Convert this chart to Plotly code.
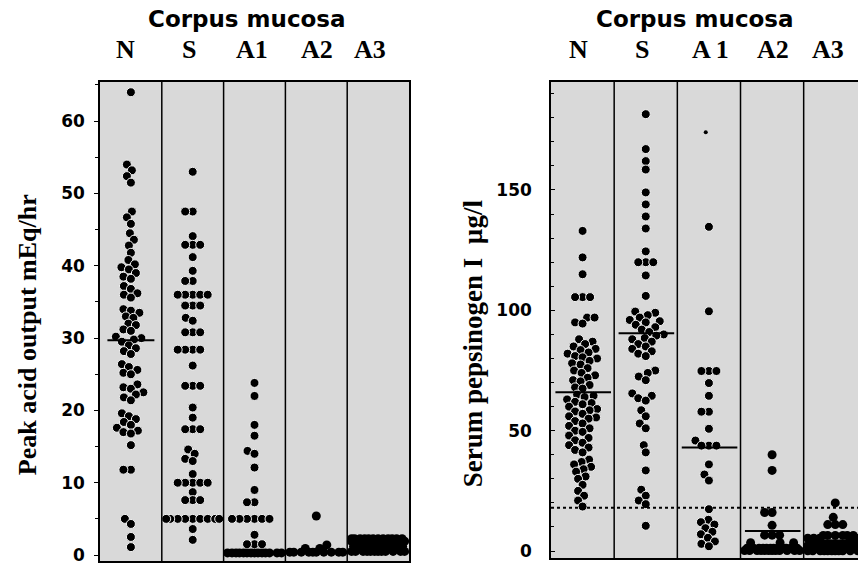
import plotly.graph_objects as go
import numpy as np

# ---------------- data ----------------
cols_left = ["N", "S", "A1", "A2", "A3"]
cols_right = ["N", "S", "A 1", "A2", "A3"]

# Peak acid output (mEq/hr)
pao_N = [64, 54, 53.2, 52.4, 51.5, 47.5, 46.7, 45.8, 44.5, 43.6, 42.8, 41.8, 40.8,
         40.2, 39.8, 39.5, 39, 38.5, 38.2, 37.2, 36.8, 36.2, 36, 35.6,
         34, 33.8, 33.5, 33, 32.8, 32, 31.8, 31.2, 31,
         30.2, 30, 29.8, 29.5, 29, 28.6, 28.2, 27.8,
         26.4, 26, 25.6, 25.2, 25, 23.6, 23.2, 23, 22.5, 22.2, 21.8, 21.4,
         19.6, 19.2, 18.8, 18.4, 18, 17.6, 17.2, 17, 16.8, 15.2,
         11.8, 11.8, 5, 4.3, 2.5, 1.1]
pao_S = [53, 47.5, 47.5, 44.1, 42.9, 42.9, 42.9, 41.2, 39.3, 37.9, 37.9,
         36, 36, 36, 36, 36, 34.5, 34.5, 34.5, 32.8, 32.4, 30.8, 30.8, 30.8,
         28.4, 28.4, 28.4, 28.4, 26.2, 23.4, 23.4, 23.4, 20.4, 19,
         17.4, 17.4, 17.4, 14.6, 14, 13.3, 13, 11.2, 10, 10, 10, 10, 10,
         8.7, 7.6, 7.6, 7.6, 5, 5, 5, 5, 5, 5, 5, 5, 5, 3.6, 2.1]
pao_A1 = [23.8, 22, 18, 16.5, 14.4, 14, 12.1, 9, 7.3, 7.3, 5, 5, 5, 5, 5, 5,
          2.8, 1.5, 1.5, 1.5]
pao_A1_floor = [0.3] * 14
pao_A2 = [5.4, 1.4, 0.9, 0.9] + [0.4] * 10
pao_A3 = [0.5] * 12 + [1.2] * 12 + [1.9] * 12 + [2.25] * 12
pao_median = [29.7, None, None, None, None]

# Serum pepsinogen I (ug/l)
pg_N = [133, 122, 115, 105.5, 105.5, 105.5, 97, 97, 95, 94.5,
        88, 87, 86, 85, 84, 83.5, 82.5, 82, 81, 80.5, 80, 79, 78, 77.5,
        76, 75, 74, 73, 72, 71, 70.5, 69, 68, 67.5,
        65, 64.5, 64, 63, 62, 61.5, 61, 60, 59, 58.5, 58, 57, 56, 55.5,
        55, 54, 53, 52, 51, 50, 49.5, 48, 47, 46, 45, 44, 43, 42, 41,
        38, 37, 36, 35, 34, 33, 31, 30, 27.5, 25, 23, 21, 18.5]
pg_S = [181.5, 167, 162, 158.5, 149, 144, 139, 134, 124.5, 120, 120, 120,
        114.5, 106, 99.5, 99, 98, 97, 96, 95.5, 95, 94, 93, 92, 91, 90,
        89.5, 88.5, 88, 87, 86, 85, 84, 83, 82, 81, 75, 74, 72.5, 71,
        65.5, 64.5, 63.5, 62.5, 58.5, 56, 53, 51, 44, 41, 33.5,
        25.5, 23, 21, 19.5, 10.5]
pg_A1 = [134.7, 99.6, 74.8, 74.8, 74.8, 69.8, 64.5, 57.9, 57.9, 50.8,
         45.9, 43.8, 43.8, 43.8, 36, 31.8, 29.3, 17.4,
         13, 12, 11, 9.5, 8, 7, 5.5, 4, 3, 2]
pg_A1_small = [174]
pg_A2 = [40, 33.5, 16, 16, 10.7, 6.6, 6.6, 6.6, 3.5, 3.5, 3.5] + [1.2] * 12 + [0.2] * 12
pg_A3 = ([20, 14, 11, 11, 11] + [6.5] * 6 + [5.3] * 6 + [3.0] * 12 + [2.2] * 12
         + [1.2] * 12 + [0.1] * 12)
pg_median = [66, 90.5, 43, 8.3, None]
pg_cutoff = 18

# ---------------- geometry / style ----------------
W, H = 858, 567
LX0, LX1, LYT, LYB = 100, 409, 82, 564
RX0, RX1, RYT, RYB = 551, 858, 82, 561
L_zero_px, L_ppu = 558, 7.27
R_zero_px, R_ppu = 554, 2.42
L_yrange = [-(LYB - L_zero_px) / L_ppu, (L_zero_px - LYT) / L_ppu]
R_yrange = [-(RYB - R_zero_px) / R_ppu, (R_zero_px - RYT) / R_ppu]
L_xrange = [0, 5]
R_xrange = [0, 4.86]
BG = "#d9d9d9"
DOT = 9
HALO = [True, True, True, False, False]

Lpx_x = (LX1 - LX0) / (L_xrange[1] - L_xrange[0])
Lpx_y = L_ppu
Rpx_x = (RX1 - RX0) / (R_xrange[1] - R_xrange[0])
Rpx_y = R_ppu


def swarm(vals, px_y, px_x, d=7.5, maxoff=26.0):
    order = sorted(range(len(vals)), key=lambda i: vals[i])
    placed = []
    xs = [0.0] * len(vals)
    cands = sorted(np.arange(-maxoff, maxoff + 0.01, 0.5), key=lambda c: (abs(c), c))
    for i in order:
        y = vals[i] * px_y
        best = None
        for c in cands:
            if all((c - px) ** 2 + (y - py) ** 2 >= d * d for px, py in placed):
                best = c
                break
        if best is None:
            best = max(cands, key=lambda c: min((c - px) ** 2 + (y - py) ** 2 for px, py in placed))
        placed.append((best, y))
        xs[i] = best / px_x
    return xs


def marker(halo):
    if halo:
        return dict(color="black", size=DOT, line=dict(color="#f2f2f2", width=1))
    return dict(color="black", size=DOT, line=dict(width=0))


fig = go.Figure()

left_sets = [pao_N, pao_S, pao_A1, pao_A2, pao_A3]
right_sets = [pg_N, pg_S, pg_A1, pg_A2, pg_A3]

for i, vals in enumerate(left_sets):
    off = swarm(vals, Lpx_y, Lpx_x, maxoff=26.5)
    fig.add_trace(go.Scatter(x=[i + 0.5 + o for o in off], y=vals, mode="markers",
                             marker=marker(HALO[i]), xaxis="x", yaxis="y",
                             showlegend=False, hoverinfo="skip"))
off = swarm(pao_A1_floor, Lpx_y, Lpx_x, maxoff=27)
fig.add_trace(go.Scatter(x=[2.5 + o for o in off], y=pao_A1_floor, mode="markers",
                         marker=marker(False), xaxis="x", yaxis="y",
                         showlegend=False, hoverinfo="skip"))
for i, vals in enumerate(right_sets):
    off = swarm(vals, Rpx_y, Rpx_x, maxoff=27.5)
    fig.add_trace(go.Scatter(x=[i + 0.5 + o for o in off], y=vals, mode="markers",
                             marker=marker(HALO[i]), xaxis="x2", yaxis="y2",
                             showlegend=False, hoverinfo="skip"))
fig.add_trace(go.Scatter(x=[2.45], y=pg_A1_small, mode="markers",
                         marker=dict(color="black", size=4), xaxis="x2", yaxis="y2",
                         showlegend=False, hoverinfo="skip"))

# medians
for i, m in enumerate(pao_median):
    if m is not None:
        fig.add_trace(go.Scatter(x=[i + 0.12, i + 0.88], y=[m, m], mode="lines",
                                 line=dict(color="black", width=2), xaxis="x", yaxis="y",
                                 showlegend=False, hoverinfo="skip"))
for i, m in enumerate(pg_median):
    if m is not None:
        fig.add_trace(go.Scatter(x=[i + 0.07, i + 0.95], y=[m, m], mode="lines",
                                 line=dict(color="black", width=2), xaxis="x2", yaxis="y2",
                                 showlegend=False, hoverinfo="skip"))

shapes = []
for k in range(1, 5):
    shapes.append(dict(type="line", xref="x", yref="y domain", x0=k, x1=k, y0=0, y1=1,
                       line=dict(color="black", width=1.5), layer="above"))
    shapes.append(dict(type="line", xref="x2", yref="y2 domain", x0=k, x1=k, y0=0, y1=1,
                       line=dict(color="black", width=1.5), layer="above"))
shapes.append(dict(type="line", xref="x2 domain", yref="y2", x0=0, x1=1, y0=pg_cutoff, y1=pg_cutoff,
                   line=dict(color="black", width=2, dash="3px,3px"), layer="above"))

annotations = []
title_font = dict(family="DejaVu Sans", size=23, color="black", weight="bold")
col_font = dict(family="Liberation Serif", size=26, color="black", weight="bold")
axt_font = dict(family="Liberation Serif", size=26, color="black", weight="bold")
annotations.append(dict(text="Corpus mucosa", x=247 / W, y=1 - 19 / H, xref="paper", yref="paper",
                        showarrow=False, font=title_font, xanchor="center", yanchor="middle"))
annotations.append(dict(text="Corpus mucosa", x=695 / W, y=1 - 19 / H, xref="paper", yref="paper",
                        showarrow=False, font=title_font, xanchor="center", yanchor="middle"))
lab_px_left = [125, 189, 252, 317, 370]
lab_px_right = [578, 642, 710, 773, 828]
for t, px in zip(cols_left, lab_px_left):
    annotations.append(dict(text=t, x=px / W, y=1 - 50 / H, xref="paper", yref="paper",
                            showarrow=False, font=col_font, xanchor="center", yanchor="middle"))
for t, px in zip(cols_right, lab_px_right):
    annotations.append(dict(text=t, x=px / W, y=1 - 50 / H, xref="paper", yref="paper",
                            showarrow=False, font=col_font, xanchor="center", yanchor="middle"))
annotations.append(dict(text="Peak acid output mEq/hr", x=27 / W, y=1 - 337 / H, xref="paper",
                        yref="paper", showarrow=False, textangle=-90, font=axt_font,
                        xanchor="center", yanchor="middle"))
annotations.append(dict(text="Serum pepsinogen I  µg/l", x=473 / W, y=1 - 345 / H, xref="paper",
                        yref="paper", showarrow=False, textangle=-90,
                        font=dict(axt_font, size=27),
                        xanchor="center", yanchor="middle"))

tick_font = dict(family="DejaVu Sans", size=17, color="black", weight="bold")
common_x = dict(showgrid=False, zeroline=False, showticklabels=False, ticks="",
                showline=True, linecolor="black", linewidth=1.5, mirror=True, fixedrange=True)

fig.update_layout(
    width=W, height=H, margin=dict(l=0, r=0, t=0, b=0),
    paper_bgcolor="white", plot_bgcolor=BG,
    xaxis=dict(domain=[LX0 / W, LX1 / W], range=L_xrange, anchor="y", **common_x),
    yaxis=dict(domain=[1 - LYB / H, 1 - LYT / H], range=L_yrange, anchor="x",
               showgrid=False, zeroline=False, showline=True, linecolor="black", linewidth=1.5,
               mirror=True, tickvals=[0, 10, 20, 30, 40, 50, 60], ticks="outside", ticklen=4,
               tickcolor="black", tickfont=tick_font, ticklabelstandoff=6,
               minor=dict(dtick=5, ticks="outside", ticklen=3, tickcolor="black")),
    xaxis2=dict(domain=[RX0 / W, RX1 / W], range=R_xrange, anchor="y2", **common_x),
    yaxis2=dict(domain=[1 - RYB / H, 1 - RYT / H], range=R_yrange, anchor="x2",
                showgrid=False, zeroline=False, showline=True, linecolor="black", linewidth=1.5,
                mirror=False, tickvals=[0, 50, 100, 150], ticks="inside", ticklen=4,
                tickcolor="black", tickfont=tick_font, ticklabelstandoff=14,
                minor=dict(dtick=10, ticks="inside", ticklen=3, tickcolor="black")),
    shapes=shapes, annotations=annotations,
)

fig.write_html("out.html", config={"displayModeBar": False},
               post_script="document.body.style.margin='0';document.body.style.overflow='hidden';")
